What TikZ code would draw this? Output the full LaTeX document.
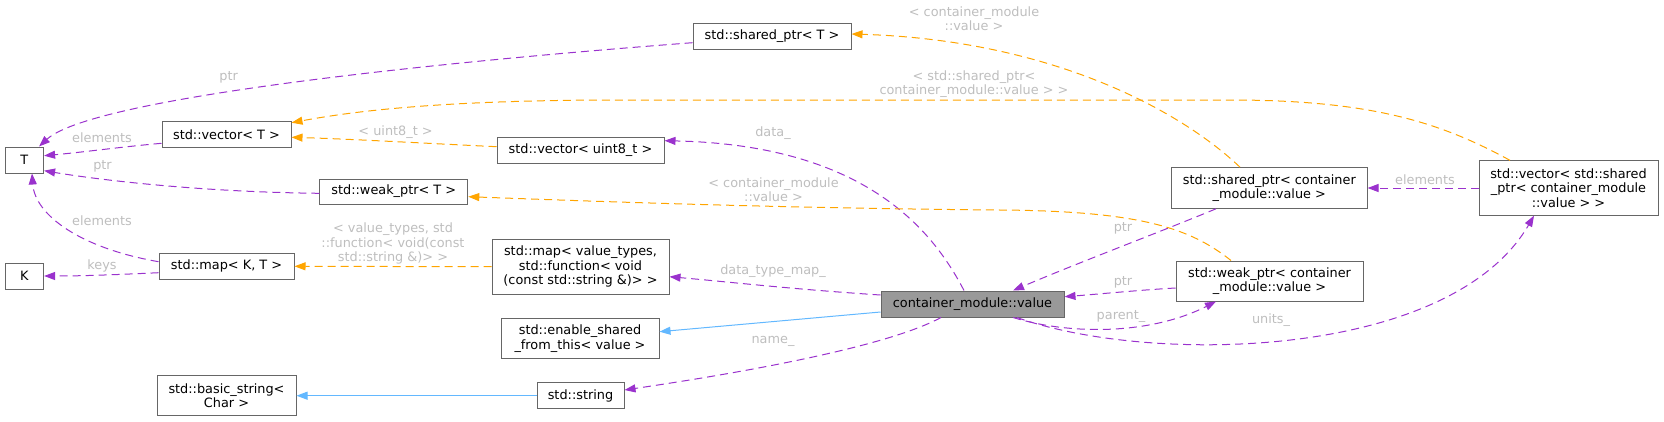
\documentclass[tikz,border=0pt]{standalone}
\usepackage{fontspec}
\setmainfont{DejaVu Sans}
\usetikzlibrary{arrows.meta}
\definecolor{edgepurple}{HTML}{9A32CD}
\definecolor{edgeorange}{HTML}{FFA500}
\definecolor{edgeblue}{HTML}{63B8FF}
\definecolor{boxborder}{HTML}{666666}
\definecolor{mainfill}{HTML}{999999}
\definecolor{labelgray}{HTML}{BEBEBE}
\begin{document}
\begin{tikzpicture}[x=1pt,y=-1pt,
  box/.style={draw=boxborder, fill=white, line width=1pt, inner sep=0pt, align=center,
    font=\fontsize{12.85}{14.5}\selectfont},
  lbl/.style={text=labelgray, inner sep=0pt, align=center,
    font=\fontsize{12.85}{14.3}\selectfont},
  tipshape/.style={-{Triangle[length=11pt,width=8pt]}},
  member/.style={draw=edgepurple, line width=1pt, dash pattern=on 8pt off 5pt, tipshape},
  templ/.style={draw=edgeorange, line width=1pt, dash pattern=on 8pt off 5pt, tipshape},
  inherit/.style={draw=edgeblue, line width=1pt, tipshape}
]
\useasboundingbox (0,0) rectangle (1664,421);

% nodes
\node[box, minimum width=38.6pt, minimum height=26pt] (T) at (24.3,160) {T};
\node[box, minimum width=38.6pt, minimum height=26pt] (K) at (24.3,276) {K};
\node[box, minimum width=129pt, minimum height=25.5pt] (vT) at (226.5,134.5) {std::vector< T >};
\node[box, minimum width=135pt, minimum height=26pt] (mKT) at (226.5,266.3) {std::map< K, T >};
\node[box, minimum width=139pt, minimum height=40pt] (bs) at (226.5,395.7) {std::basic\_string<\\Char >};
\node[box, minimum width=148pt, minimum height=25pt] (wT) at (393.8,191.5) {std::weak\_ptr< T >};
\node[box, minimum width=158pt, minimum height=26pt] (sT) at (772,36) {std::shared\_ptr< T >};
\node[box, minimum width=167pt, minimum height=25.6pt] (vu) at (580.5,150.5) {std::vector< uint8\_t >};
\node[box, minimum width=177pt, minimum height=54.7pt] (mv) at (580.5,266.7) {std::map< value\_types,\\ std::function< void\\(const std::string \&)> >};
\node[box, minimum width=158pt, minimum height=40.4pt] (es) at (580,338.5) {std::enable\_shared\\\_from\_this< value >};
\node[box, minimum width=87pt, minimum height=26pt] (st) at (580.5,395.7) {std::string};
\node[box, fill=mainfill, minimum width=183pt, minimum height=26pt] (cm) at (972.5,304) {container\_module::value};
\node[box, minimum width=195.5pt, minimum height=40.6pt] (sc) at (1269.3,188) {std::shared\_ptr< container\\\_module::value >};
\node[box, minimum width=187pt, minimum height=40pt] (wc) at (1269.5,281) {std::weak\_ptr< container\\\_module::value >};
\node[box, minimum width=179pt, minimum height=54.3pt] (vs) at (1568.5,188) {std::vector< std::shared\\\_ptr< container\_module\\::value > >};

% member edges
\draw[member] ([xshift=-8.5pt]cm.north) .. controls (935,235) and (870,145) .. ([yshift=9.8pt]vu.east);
\draw[member] ([yshift=9pt]cm.west) .. controls (790,289) and (730,282) .. ([yshift=-10pt]mv.east);
\draw[member] ([xshift=-31.5pt]cm.south) .. controls (890,345) and (760,370) .. ([yshift=5.7pt]st.east);
\draw[member] ([yshift=-6.4pt]mKT.west) .. controls (110,275) and (80,276) .. (K.east);
\draw[member] ([yshift=4.6pt]mKT.west) .. controls (80,248) and (35,215) .. ([xshift=7.7pt]T.south);
\draw[member] ([yshift=-8.8pt]vT.west) .. controls (120,147) and (85,152) .. ([yshift=4.3pt]T.east);
\draw[member] ([yshift=-1.8pt]wT.west) .. controls (200,192) and (100,180) .. ([yshift=-10.7pt]T.east);
\draw[member] ([yshift=-6.7pt]sT.west) .. controls (400,65) and (90,100) .. ([xshift=14.7pt]T.north);
\draw[member] ([xshift=-53.3pt]sc.south) .. controls (1160,232) and (1080,262) .. ([xshift=40.5pt]cm.north);
\draw[member] ([yshift=-7pt]wc.west) .. controls (1140,290) and (1100,294) .. ([yshift=7.3pt]cm.east);
\draw[member] ([xshift=40.5pt]cm.south) .. controls (1070,335) and (1150,335) .. ([xshift=-53.5pt]wc.south);
\draw[member] ([xshift=44.5pt]cm.south) .. controls (1150,365) and (1450,360) .. ([xshift=-34.5pt]vs.south);
\draw[member] (vs.west) -- (sc.east);

% template edges
\draw[templ] ([yshift=3.8pt]vu.west) .. controls (420,143) and (350,139) .. ([yshift=-2.8pt]vT.east);
\draw[templ] (mv.west) -- (mKT.east);
\draw[templ] ([xshift=-58.5pt]vs.north) .. controls (1440,122) and (1370,100) .. (1230,100) -- (620,100) .. controls (450,100) and (360,110) .. ([yshift=11.8pt]vT.east);
\draw[templ] ([xshift=-29.3pt]sc.north) .. controls (1180,110) and (1050,40) .. ([yshift=2pt]sT.east);
\draw[templ] ([xshift=-38.5pt]wc.north) .. controls (1190,228) and (1140,211) .. (1000,210) .. controls (760,208) and (560,200) .. ([yshift=-5.2pt]wT.east);

% inheritance edges
\draw[inherit] ([yshift=-8pt]cm.west) -- ([yshift=6.8pt]es.east);
\draw[inherit] (st.west) -- (bs.east);

% labels
\node[lbl] (Ldata) at (773,133) {data\_};
\node[lbl] (Ldtm) at (773,271) {data\_type\_map\_};
\node[lbl] (Lname) at (773,341) {name\_};
\node[lbl] (Lkeys) at (102,266) {keys};
\node[lbl] (Lel1) at (102,220.7) {elements};
\node[lbl] (Lel2) at (102,138) {elements};
\node[lbl] (Lptr1) at (102.5,166.7) {ptr};
\node[lbl] (Lptr2) at (228.6,77.7) {ptr};
\node[lbl] (Lu8) at (395.6,131.7) {< uint8\_t >};
\node[lbl] (Lvt) at (393,243.7) {< value\_types, std\\::function< void(const\\std::string \&)> >};
\node[lbl] (Lsp) at (974,83.8) {< std::shared\_ptr<\\container\_module::value > >};
\node[lbl] (Lcm1) at (974,18.8) {< container\_module\\::value >};
\node[lbl] (Lcm2) at (773.5,189.7) {< container\_module\\::value >};
\node[lbl] (Lptr3) at (1123,228) {ptr};
\node[lbl] (Lptr4) at (1123,282.7) {ptr};
\node[lbl] (Lpar) at (1121,316.7) {parent\_};
\node[lbl] (Lun) at (1271,320) {units\_};
\node[lbl] (Lel3) at (1425,180) {elements};
\end{tikzpicture}
\end{document}
